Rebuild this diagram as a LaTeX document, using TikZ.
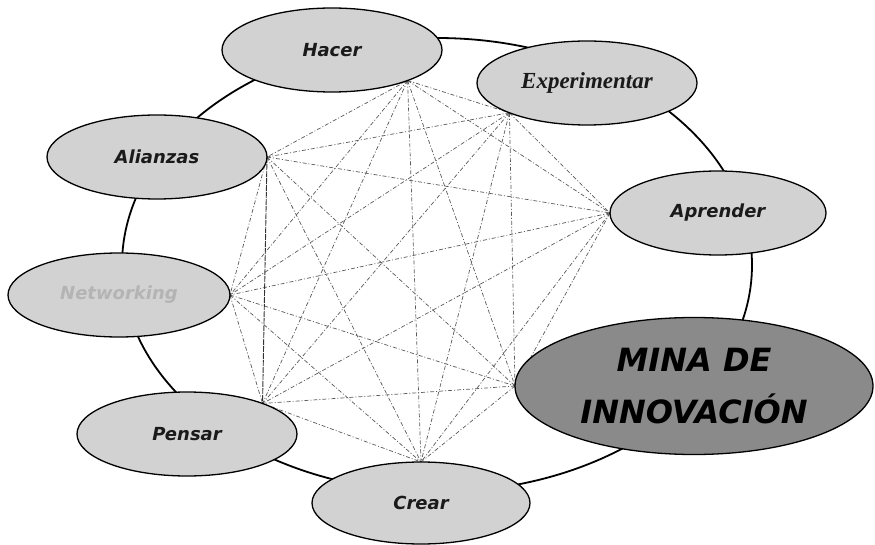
\documentclass[tikz,border=0pt]{standalone}
\usepackage{fontspec}
\newfontfamily\sansbi{DejaVu Sans}
\newfontfamily\serbi{Liberation Serif}
\usetikzlibrary{shapes.geometric}
\pgfdeclarelayer{bg}
\pgfsetlayers{bg,main}
\definecolor{nodefill}{HTML}{D2D2D2}
\definecolor{minafill}{HTML}{8A8A8A}
\definecolor{txt}{HTML}{1A1A1A}
\definecolor{netc}{HTML}{B4B4B4}
\definecolor{linkc}{HTML}{5A5A5A}
\begin{document}
\begin{tikzpicture}[x=1pt,y=-1pt,
  bubble/.style={ellipse, draw=black, line width=1.3pt, fill=nodefill,
    inner sep=0pt, outer sep=0pt, minimum width=220pt, minimum height=84pt,
    text=txt, font=\sansbi\bfseries\itshape\fontsize{18}{20}\selectfont},
  link/.style={draw=linkc, line width=0.7pt, dash pattern=on 4pt off 2pt on 1pt off 2pt},
  strong link/.style={draw=black!80, line width=0.9pt, dash pattern=on 6pt off 1pt},
  ring/.style={draw=black, line width=1.8pt}]
\useasboundingbox (0,0) rectangle (875,545);
\node[bubble] (hacer) at (332,50) {Hacer};
\node[bubble, font=\serbi\bfseries\itshape\fontsize{23}{25}\selectfont] (exp) at (587,83) {Experimentar};
\node[bubble] (ali) at (157,157) {Alianzas};
\node[bubble, minimum width=216pt] (apr) at (718,213) {Aprender};
\node[bubble, text=netc, minimum width=222pt] (net) at (119,295) {Networking};
\node[bubble] (pen) at (187,434) {Pensar};
\node[bubble, minimum width=218pt, minimum height=82pt] (cre) at (421,503) {Crear};
\node[bubble, fill=minafill, minimum width=358pt, minimum height=137pt, align=center,
  text=black, font=\sansbi\bfseries\itshape\fontsize{32}{52}\selectfont] (mina) at (694,386) {MINA DE\\INNOVACIÓN};
\coordinate (pH) at (hacer.-22);
\coordinate (pE) at (exp.-159);
\coordinate (pA) at (ali.east);
\coordinate (pAp) at (apr.west);
\coordinate (pN) at (net.east);
\coordinate (pM) at (mina.west);
\coordinate (pP) at (pen.22);
\coordinate (pC) at (cre.north);
\begin{pgfonlayer}{bg}
\fill[white] (0,0) rectangle (875,545);
\draw[ring] (437,265) ellipse [x radius=315, y radius=227];
\foreach \a/\b in {pH/pE,pH/pA,pH/pAp,pH/pN,pH/pM,pH/pP,pH/pC,
  pE/pA,pE/pAp,pE/pN,pE/pM,pE/pP,pE/pC,
  pA/pAp,pA/pN,pA/pM,pA/pC,
  pAp/pN,pAp/pM,pAp/pP,pAp/pC,
  pN/pM,pN/pP,pN/pC,
  pM/pP,pM/pC,pP/pC}
  \draw[link] (\a) -- (\b);
\draw[strong link] (pA) -- (pP);
\end{pgfonlayer}
\end{tikzpicture}
\end{document}
